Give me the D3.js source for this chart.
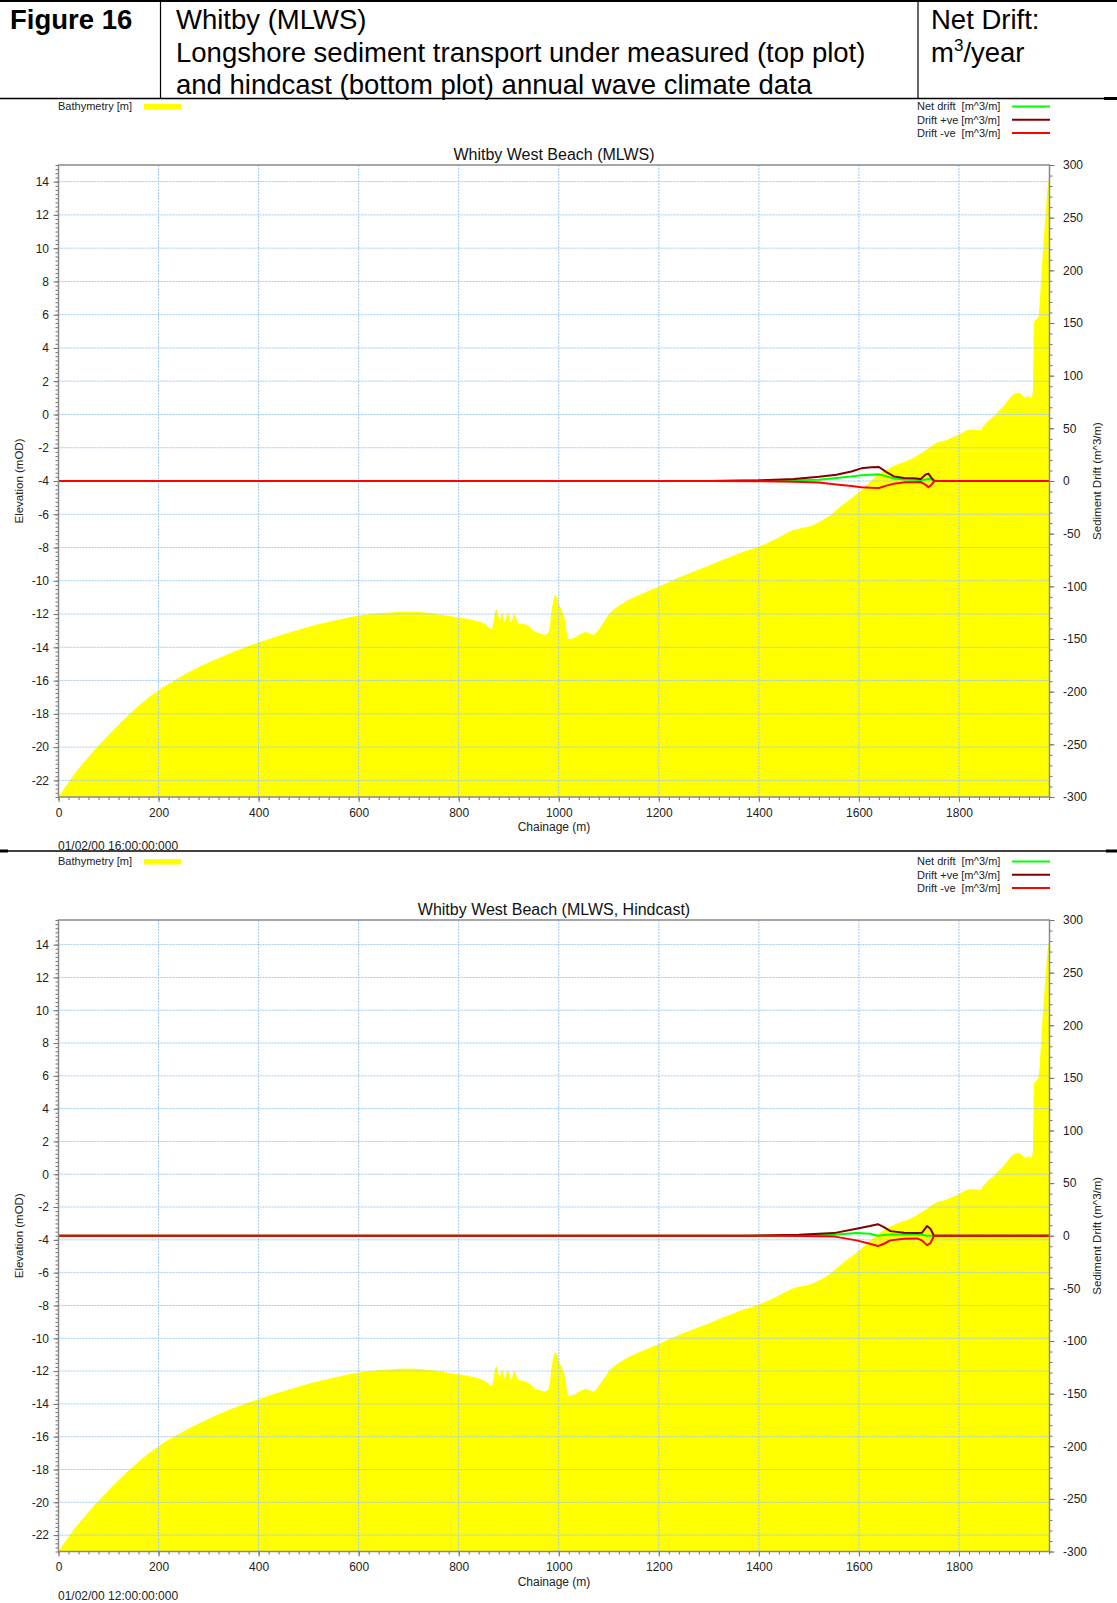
<!DOCTYPE html>
<html>
<head>
<meta charset="utf-8">
<script src="https://cdn.jsdelivr.net/npm/d3@7"></script>
<style>
  body { margin: 0; background: #fff; }
  text { font-family: Arial, "Liberation Sans", sans-serif; }
</style>
</head>
<body>
<svg id="fig"></svg>
<script>
// bathymetry profile (same survey line in both plots)
const bathyChainage = [0, 25, 54, 82, 125, 161, 199, 232, 268, 304, 340, 376, 401, 447, 483, 519, 554, 600,
  662, 697, 733, 769, 800, 826, 855, 866, 875, 882, 887, 892, 898, 905, 911, 919, 930, 941, 951, 962, 973, 980,
  987, 993, 1001, 1012, 1019, 1030, 1041, 1055, 1069, 1084, 1102, 1123, 1169, 1200, 1236, 1269, 1303, 1336,
  1369, 1400, 1436, 1469, 1503, 1536, 1569, 1599, 1636, 1669, 1703, 1736, 1756, 1769, 1800, 1823, 1843, 1849,
  1869, 1889, 1909, 1919, 1933, 1939, 1944, 1948, 1950, 1959, 1966, 1973, 1977, 1981];
const bathyLevel = [-23, -21.9, -20.8, -19.85, -18.5, -17.5, -16.6, -15.98, -15.38, -14.86, -14.38, -13.96, -13.7,
  -13.25, -12.92, -12.62, -12.38, -12.08, -11.9, -11.85, -11.9, -12.05, -12.2, -12.35, -12.65, -12.9, -11.7, -12.35,
  -11.95, -12.45, -11.95, -12.5, -12.0, -12.55, -12.6, -12.75, -13.05, -13.15, -13.25, -13.05, -11.55, -10.85,
  -11.45, -12.3, -13.5, -13.45, -13.25, -13.1, -13.25, -12.75, -11.95, -11.45, -10.75, -10.35, -9.85, -9.45,
  -9.05, -8.65, -8.25, -7.95, -7.45, -6.95, -6.7, -6.2, -5.4, -4.7, -3.7, -3.1, -2.7, -2.1, -1.7, -1.6, -1.2,
  -0.9, -0.95, -0.7, -0.1, 0.5, 1.2, 1.3, 1.0, 1.1, 1.0, 1.4, 5.5, 5.9, 9.0, 12.0, 13.6, 14.3];

// measured wave climate (top plot)
const measChainage = [0, 1300, 1400, 1470, 1520, 1555, 1585, 1605, 1625, 1640, 1655, 1670, 1690, 1710, 1724,
  1733, 1739, 1745, 1751, 1981];
const measNet = [0, 0, 0.3, 0.6, 1.3, 2.8, 4.2, 5.4, 6, 6.3, 4.4, 2.5, 1.5, 1.3, 1, 1.5, 2, 1.5, 0, 0];
const measPos = [0, 0, 0.6, 2, 4, 6, 9, 12, 13, 13.3, 8.5, 4.4, 2.8, 2.5, 2, 6, 7, 3, 0, 0];
const measNeg = [0, 0, -0.2, -0.6, -1.5, -3.4, -4.8, -6, -6.5, -6.6, -4.4, -2.5, -1.3, -1.1, -1, -3.5, -6, -3.5, 0, 0];

// hindcast wave climate (bottom plot)
const hindChainage = [0, 1380, 1480, 1550, 1595, 1622, 1638, 1650, 1663, 1690, 1716, 1726, 1736, 1743, 1750, 1981];
const hindNet = [0, 0, 0.4, 1, 2.5, 1.9, 0, 0.6, 1.3, 1.3, 1.3, 1, 0, 0, 0, 0];
const hindPos = [0, 0, 1, 2.5, 6.6, 9.2, 11, 8.2, 4.4, 2.8, 2.5, 2.8, 9.2, 6.6, 0, 0];
const hindNeg = [0, 0, -0.3, -0.6, -4.4, -7.6, -9.8, -7.6, -4.4, -2.8, -2.5, -4.4, -8.9, -7, 0, 0];

const elevTicks = [-22, -20, -18, -16, -14, -12, -10, -8, -6, -4, -2, 0, 2, 4, 6, 8, 10, 12, 14];
const driftTicks = [-300, -250, -200, -150, -100, -50, 0, 50, 100, 150, 200, 250, 300];
const chainTicks = [0, 200, 400, 600, 800, 1000, 1200, 1400, 1600, 1800];
const driftLabels = ['Net drift  [m^3/m]', 'Drift +ve [m^3/m]', 'Drift -ve  [m^3/m]'];
const driftColors = ['#00ff00', '#800000', '#ff0000'];

const W = 1117, H = 1603;
const svg = d3.select('#fig').attr('width', W).attr('height', H);
const x = d3.scaleLinear().domain([0, 1981]).range([58.5, 1049.5]);
const plain = d => String(d);

// ---- header table ----
const hdr = svg.append('g');
hdr.append('line').attr('x1', 0).attr('x2', W).attr('y1', 1).attr('y2', 1).attr('stroke', '#000').attr('stroke-width', 2);
hdr.append('line').attr('x1', 0).attr('x2', W).attr('y1', 98.5).attr('y2', 98.5).attr('stroke', '#000').attr('stroke-width', 1.5);
hdr.append('line').attr('x1', 1104).attr('x2', W).attr('y1', 98.5).attr('y2', 98.5).attr('stroke', '#000').attr('stroke-width', 3);
[160.5, 918].forEach(cx => hdr.append('line').attr('x1', cx).attr('x2', cx).attr('y1', 0).attr('y2', 98)
  .attr('stroke', '#000').attr('stroke-width', 1.2));
hdr.append('text').attr('x', 10).attr('y', 29).attr('font-size', 27.5).attr('font-weight', 'bold').text('Figure 16');
['Whitby (MLWS)', 'Longshore sediment transport under measured (top plot)',
 'and hindcast (bottom plot) annual wave climate data'].forEach((t, i) =>
  hdr.append('text').attr('x', 176).attr('y', 29 + i * 32.5).attr('font-size', 27.5).text(t));
hdr.append('text').attr('x', 931).attr('y', 29).attr('font-size', 27.5).text('Net Drift:');
const unit = hdr.append('text').attr('x', 931).attr('y', 61.5).attr('font-size', 27.5);
unit.append('tspan').text('m');
unit.append('tspan').attr('font-size', 17).attr('dy', -11).text('3');
unit.append('tspan').attr('dy', 11).text('/year');

// separator between the two plots
svg.append('line').attr('x1', 0).attr('x2', W).attr('y1', 851).attr('y2', 851).attr('stroke', '#000').attr('stroke-width', 1.5);
svg.append('line').attr('x1', 0).attr('x2', 8).attr('y1', 851).attr('y2', 851).attr('stroke', '#000').attr('stroke-width', 3);
svg.append('line').attr('x1', 1106).attr('x2', W).attr('y1', 851).attr('y2', 851).attr('stroke', '#000').attr('stroke-width', 3);

function panel(p) {
  const g = svg.append('g');
  const y = d3.scaleLinear().domain(p.elevDomain).range([p.bottom, p.top]);
  const yr = d3.scaleLinear().domain([-300, 300]).range([p.bottom, p.top]);
  const x0 = x.range()[0], x1 = x.range()[1];

  // legends
  const lg = p.top - 58.5;
  g.append('text').attr('x', 58).attr('y', lg + 3.8).attr('font-size', 11).attr('fill', '#222').text('Bathymetry [m]');
  g.append('rect').attr('x', 144).attr('y', lg - 2.5).attr('width', 37).attr('height', 5.5).attr('fill', '#ffff00');
  driftLabels.forEach((t, i) => {
    const ly = lg + i * 13.2;
    g.append('text').attr('x', 917).attr('y', ly + 3.8).attr('font-size', 11).attr('fill', '#222')
      .style('white-space', 'pre').text(t);
    g.append('line').attr('x1', 1012).attr('x2', 1050).attr('y1', ly).attr('y2', ly)
      .attr('stroke', driftColors[i]).attr('stroke-width', 2);
  });

  // title
  g.append('text').attr('x', (x0 + x1) / 2).attr('y', p.top - 5.5).attr('text-anchor', 'middle')
    .attr('font-size', 16).attr('fill', '#111').text(p.title);

  // bathymetry
  const area = d3.area().curve(d3.curveMonotoneX).x(d => x(d[0])).y0(p.bottom).y1(d => y(d[1]));
  g.append('path').datum(d3.zip(bathyChainage, bathyLevel)).attr('d', area).attr('fill', '#ffff00');

  // grid
  g.append('g').selectAll('line').data(chainTicks.filter(d => d > 0)).join('line')
    .attr('x1', d => x(d)).attr('x2', d => x(d)).attr('y1', p.top).attr('y2', p.bottom)
    .attr('stroke', '#9fcaf5').attr('stroke-dasharray', '2,1').attr('stroke-width', 1);
  g.append('g').selectAll('line').data(elevTicks).join('line')
    .attr('x1', x0).attr('x2', x1).attr('y1', d => y(d)).attr('y2', d => y(d))
    .attr('stroke', '#9fcaf5').attr('stroke-dasharray', '2,1').attr('stroke-width', 1);

  // drift lines
  const line = d3.line().x(d => x(d[0])).y(d => yr(d[1]));
  [p.net, p.pos, p.neg].forEach((s, i) => {
    g.append('path').datum(d3.zip(p.chain, s)).attr('d', line).attr('fill', 'none')
      .attr('stroke', driftColors[i]).attr('stroke-width', 2).attr('stroke-linejoin', 'round');
  });

  // axes
  const style = a => {
    a.select('.domain').remove();
    a.selectAll('line').attr('stroke', '#707070');
    a.selectAll('text').attr('font-size', 12).attr('fill', '#222').attr('font-family', null);
  };
  g.append('g').attr('transform', `translate(${x0},0)`)
    .call(d3.axisLeft(y).tickValues(d3.range(-23, p.elevDomain[1] + 0.01, 0.25)).tickSize(3).tickFormat(''))
    .call(style);
  g.append('g').attr('transform', `translate(${x0},0)`)
    .call(d3.axisLeft(y).tickValues(elevTicks).tickSize(5).tickPadding(4.5).tickFormat(plain)).call(style);
  g.append('g').attr('transform', `translate(${x1},0)`)
    .call(d3.axisRight(yr).tickValues(d3.range(-300, 301, 10)).tickSize(3).tickFormat('')).call(style);
  g.append('g').attr('transform', `translate(${x1},0)`)
    .call(d3.axisRight(yr).tickValues(driftTicks).tickSize(5).tickPadding(8.5).tickFormat(plain)).call(style);
  g.append('g').attr('transform', `translate(0,${p.bottom})`)
    .call(d3.axisBottom(x).tickValues(d3.range(0, 1981, 20)).tickSize(3).tickFormat('')).call(style);
  g.append('g').attr('transform', `translate(0,${p.bottom})`)
    .call(d3.axisBottom(x).tickValues(chainTicks).tickSize(5).tickPadding(6).tickFormat(plain)).call(style);

  // frame
  g.append('rect').attr('x', x0).attr('y', p.top).attr('width', x1 - x0).attr('height', p.bottom - p.top)
    .attr('fill', 'none').attr('stroke', '#8a8a8a').attr('stroke-width', 1.5);

  // axis titles and time stamp
  const mid = (p.top + p.bottom) / 2;
  g.append('text').attr('transform', `translate(22.5,${mid}) rotate(-90)`).attr('text-anchor', 'middle')
    .attr('font-size', 11.5).attr('fill', '#222').text('Elevation (mOD)');
  g.append('text').attr('transform', `translate(1100.5,${mid}) rotate(-90)`).attr('text-anchor', 'middle')
    .attr('font-size', 11.5).attr('fill', '#222').text('Sediment Drift (m^3/m)');
  g.append('text').attr('x', (x0 + x1) / 2).attr('y', p.bottom + 34).attr('text-anchor', 'middle')
    .attr('font-size', 12).attr('fill', '#222').text('Chainage (m)');
  g.append('text').attr('x', 58).attr('y', p.stampY).attr('font-size', 12).attr('fill', '#222').text(p.stamp);
}

panel({ top: 165, bottom: 797, elevDomain: [-23, 15], title: 'Whitby West Beach (MLWS)', stampY: 849.5,
  stamp: '01/02/00 16:00:00:000', chain: measChainage, net: measNet, pos: measPos, neg: measNeg });
panel({ top: 920, bottom: 1551.5, elevDomain: [-23, 15.5], title: 'Whitby West Beach (MLWS, Hindcast)', stampY: 1599.5,
  stamp: '01/02/00 12:00:00:000', chain: hindChainage, net: hindNet, pos: hindPos, neg: hindNeg });
</script>
</body>
</html>
